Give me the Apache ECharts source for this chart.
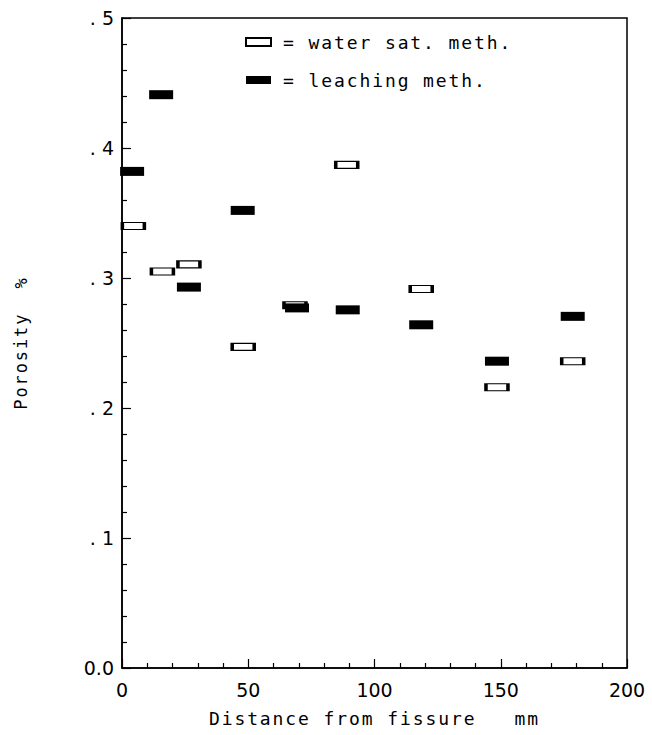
<!DOCTYPE html>
<html><head><meta charset="utf-8">
<script src="https://cdn.jsdelivr.net/npm/echarts@6/dist/echarts.min.js"></script>
<style>
html,body{margin:0;padding:0;background:#fff}
#c{width:652px;height:735px}
#c text[style*="Mono"]{letter-spacing:1.9px}
</style>
</head><body><div id="c"></div>
<script>
const waterX = [4.5, 16, 26.5, 48, 68.5, 89, 118.5, 148.5, 178.5];
const waterY = [0.340, 0.305, 0.3105, 0.247, 0.279, 0.387, 0.2915, 0.216, 0.236];
const leachX = [4, 15.5, 26.5, 47.8, 69.3, 89.4, 118.5, 148.5, 178.5];
const leachY = [0.382, 0.441, 0.293, 0.352, 0.277, 0.2755, 0.264, 0.236, 0.2705];
const xTicks = [0, 50, 100, 150, 200];
const yTickLabels = {0: '0.0', 0.1: '. 1', 0.2: '. 2', 0.3: '. 3', 0.4: '. 4', 0.5: '. 5'};

const MONO = 'DejaVu Sans Mono';
const SANS = 'DejaVu Sans';
const chart = echarts.init(document.getElementById('c'), null, {renderer: 'svg'});
chart.setOption({
  animation: false,
  backgroundColor: '#fff',
  grid: {left: 122, right: 25, top: 18, bottom: 67, show: true, borderColor: '#000', borderWidth: 1.5},
  legend: {
    orient: 'vertical', left: 245, top: 32, itemGap: 18,
    itemWidth: 25, itemHeight: 8, padding: 0,
    textStyle: {fontFamily: MONO, fontSize: 18, color: '#000', lineHeight: 20, padding: [0, 0, 0, 7]},
    formatter: n => '= ' + n,
    data: ['water sat. meth.', 'leaching meth.']
  },
  xAxis: {
    type: 'value', min: 0, max: 200, interval: 50,
    axisLine: {show: true, lineStyle: {color: '#000', width: 1.5}},
    axisTick: {show: true, inside: true, length: 9, lineStyle: {color: '#000', width: 1.2}},
    minorTick: {show: true, splitNumber: 5, length: 5, lineStyle: {color: '#000', width: 1.2}},
    splitLine: {show: false},
    axisLabel: {fontFamily: SANS, fontSize: 19, color: '#000', margin: 12,
      formatter: v => xTicks.includes(v) ? String(v) : ''},
    name: 'Distance from fissure   mm', nameLocation: 'middle', nameGap: 41,
    nameTextStyle: {fontFamily: MONO, fontSize: 18, color: '#000'}
  },
  yAxis: {
    type: 'value', min: 0, max: 0.5, interval: 0.1,
    axisLine: {show: true, lineStyle: {color: '#000', width: 1.5}},
    axisTick: {show: true, inside: true, length: 9, lineStyle: {color: '#000', width: 1.2}},
    minorTick: {show: true, splitNumber: 5, length: 5, lineStyle: {color: '#000', width: 1.2}},
    splitLine: {show: false},
    axisLabel: {fontFamily: SANS, fontSize: 19, color: '#000', margin: 8,
      formatter: v => yTickLabels[Math.round(v * 10) / 10] || ''},
    name: 'Porosity  %', nameLocation: 'middle', nameGap: 93,
    nameTextStyle: {fontFamily: MONO, fontSize: 17, color: '#000'}
  },
  series: [
    {name: 'water sat. meth.', type: 'scatter', symbol: 'rect', symbolSize: [22, 7],
     itemStyle: {color: '#fff', borderColor: '#000', borderWidth: 2, opacity: 1},
     emphasis: {disabled: true},
     data: waterX.map((x, i) => [x, waterY[i]]), z: 2},
    {name: 'leaching meth.', type: 'scatter', symbol: 'rect', symbolSize: [24, 9],
     itemStyle: {color: '#000', borderWidth: 0, opacity: 1},
     emphasis: {disabled: true},
     data: leachX.map((x, i) => [x, leachY[i]]), z: 3}
  ]
});
</script></body></html>
